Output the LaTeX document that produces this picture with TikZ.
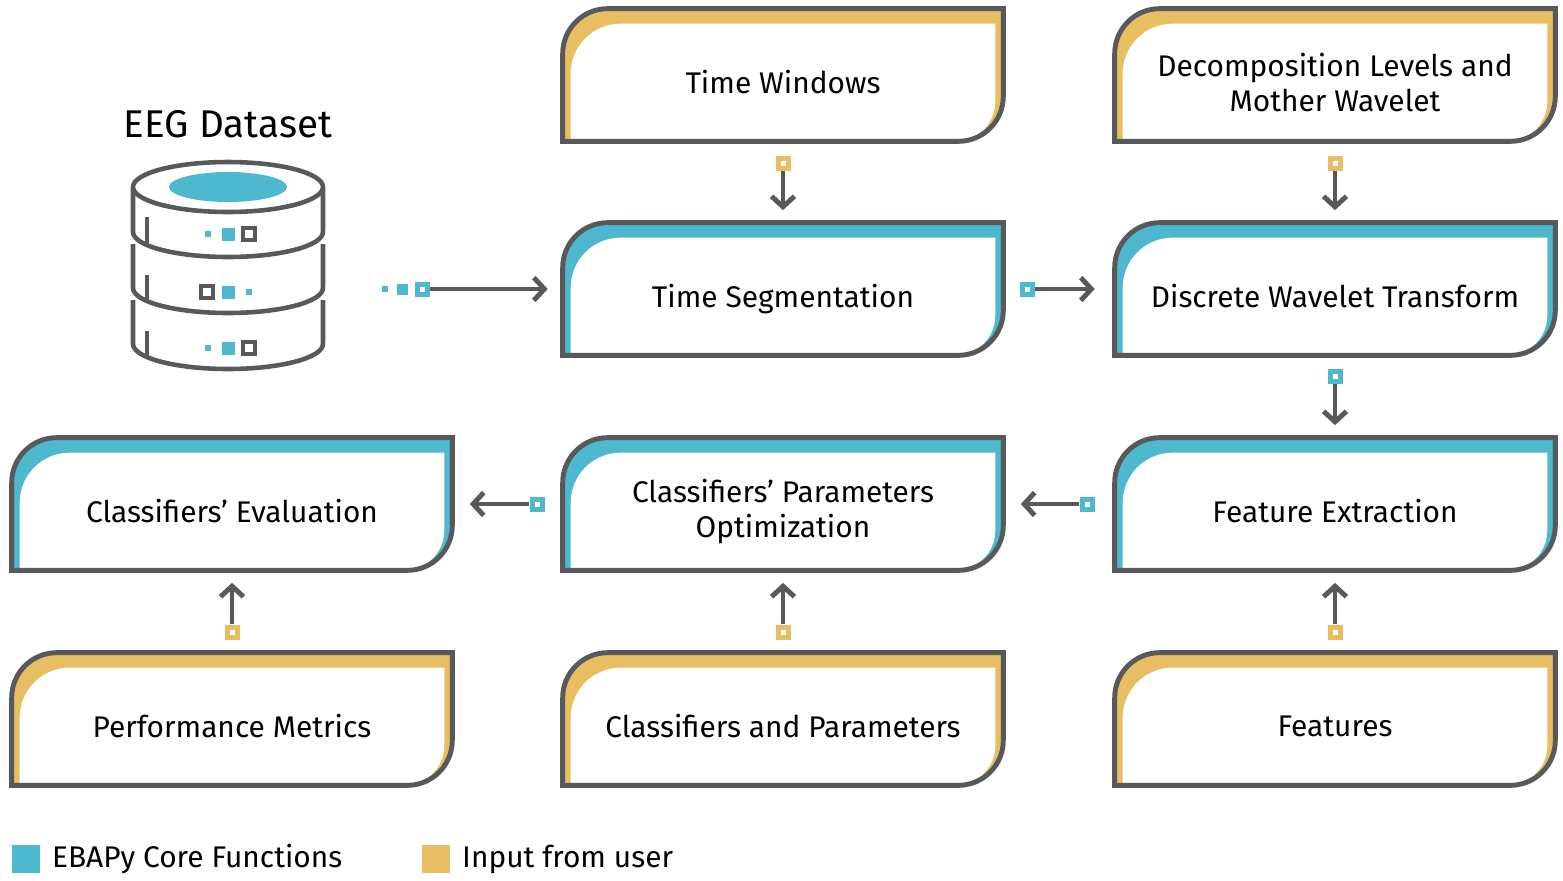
\documentclass[tikz,border=0pt]{standalone}
\usepackage{fontspec}
\setmainfont{Fira Sans}
\usetikzlibrary{arrows.meta}
\definecolor{ebablue}{HTML}{4DB8CE}
\definecolor{ebagold}{HTML}{E8BE62}
\definecolor{ebagray}{HTML}{58595B}
\tikzset{
  stage/.style={minimum width=8.8cm, minimum height=2.64cm, inner sep=0pt,
    align=center, font=\fontsize{17}{19.5}\selectfont, text=black},
  flow/.style={draw=ebagray, line width=2.8pt, -{Straight Barb[length=6pt,width=13pt,line width=2.8pt]}},
  mark/.style={fill=#1, draw=none, minimum size=0.3cm, inner sep=0pt,
    path picture={\fill[white] ([shift={(-0.05cm,-0.05cm)}]path picture bounding box.center) rectangle ++(0.1cm,0.1cm);}},
  dot/.style={fill=ebablue, draw=none, inner sep=0pt, minimum size=#1}
}
% box with a colored rim
\newcommand{\rimbox}[2]{%
  \fill[#2] (#1.south west) -- ([yshift=-0.9cm]#1.north west) arc[start angle=180,end angle=90,radius=0.9cm]
    -- (#1.north east) -- ([yshift=0.9cm]#1.south east) arc[start angle=0,end angle=-90,radius=0.9cm] -- cycle;
  \fill[white] ([xshift=0.16cm]#1.south west) -- ([xshift=0.16cm,yshift=-1.3cm]#1.north west)
    arc[start angle=180,end angle=90,radius=1cm] -- ([xshift=-0.16cm,yshift=-0.3cm]#1.north east)
    -- ([xshift=-0.16cm,yshift=0.8cm]#1.south east) arc[start angle=0,end angle=-90,radius=0.8cm] -- cycle;
  \draw[ebagray, line width=2.8pt] (#1.south west) -- ([yshift=-0.9cm]#1.north west) arc[start angle=180,end angle=90,radius=0.9cm]
    -- (#1.north east) -- ([yshift=0.9cm]#1.south east) arc[start angle=0,end angle=-90,radius=0.9cm] -- cycle;
}
\begin{document}
\begin{tikzpicture}[x=0.02cm, y=-0.02cm]
  \useasboundingbox (0,0) rectangle (1563,880);

  % boxes
  \node[stage] (tw) at (783,75) {};
  \node[stage] (dl) at (1335,75) {};
  \node[stage] (ts) at (783,289) {};
  \node[stage] (dwt) at (1335,289) {};
  \node[stage] (ce) at (232,504) {};
  \node[stage] (cpo) at (783,504) {};
  \node[stage] (fe) at (1335,504) {};
  \node[stage] (pm) at (232,719) {};
  \node[stage] (cp) at (783,719) {};
  \node[stage] (ft) at (1335,719) {};
  \rimbox{tw}{ebagold} \rimbox{dl}{ebagold}
  \rimbox{ts}{ebablue} \rimbox{dwt}{ebablue}
  \rimbox{ce}{ebablue} \rimbox{cpo}{ebablue} \rimbox{fe}{ebablue}
  \rimbox{pm}{ebagold} \rimbox{cp}{ebagold} \rimbox{ft}{ebagold}
  \node[stage] at ([yshift=-0.15cm]tw) {Time Windows};
  \node[stage] at ([yshift=-0.15cm]dl) {Decomposition Levels and\\Mother Wavelet};
  \node[stage] at ([yshift=-0.2cm]ts) {Time Segmentation};
  \node[stage] at ([yshift=-0.15cm]dwt) {Discrete Wavelet Transform};
  \node[stage] at ([yshift=-0.15cm]ce) {Classifiers’ Evaluation};
  \node[stage] at ([yshift=-0.15cm]cpo) {Classifiers’ Parameters\\Optimization};
  \node[stage] at ([yshift=-0.15cm]fe) {Feature Extraction};
  \node[stage] at ([yshift=-0.15cm]pm) {Performance Metrics};
  \node[stage] at ([yshift=-0.15cm]cp) {Classifiers and Parameters};
  \node[stage] at ([yshift=-0.15cm]ft) {Features};

  % database
  \node[font=\fontsize{22}{25}\selectfont] (eeg) at (228,124) {EEG Dataset};
  \begin{scope}[ebagray, line width=2.6pt]
    \foreach \y in {300,244} {
      \draw[fill=white] (133,\y) -- (133,\y+44) arc[x radius=1.9cm, y radius=0.5cm, start angle=180, end angle=360] -- (323,\y);
    }
    \draw[fill=white] (133,188) -- (133,232) arc[x radius=1.9cm, y radius=0.5cm, start angle=180, end angle=360] -- (323,188);
    \draw[fill=white] (228,187) ellipse[x radius=1.9cm, y radius=0.5cm];
    \fill[ebablue] (228,187) ellipse[x radius=1.18cm, y radius=0.3cm];
    \foreach \y in {234,348} {
      \draw (147,\y-17) -- (147,\y+10);
      \node[dot=0.12cm] (s\y) at (208,\y) {};
      \node[dot=0.26cm] (m\y) at (228,\y) {};
      \draw[line width=2pt] (243,\y-6) rectangle (255,\y+6);
    }
    \draw (147,275) -- (147,302);
    \draw[line width=2pt] (201,286) rectangle (213,298);
    \node[dot=0.26cm] (m292) at (228,292) {};
    \node[dot=0.12cm] (s292) at (249,292) {};
  \end{scope}

  % connectors
  \node[dot=0.12cm] (q1) at (385,289) {};
  \node[dot=0.22cm] (q2) at (402,289) {};
  \node[mark=ebablue] (db) at (422,289) {};
  \draw[flow] (db.east) -- ([xshift=-0.3cm]ts.west);
  \node[mark=ebablue] (m1) at (1027,289) {};
  \draw[flow] (m1.east) -- ([xshift=-0.4cm]dwt.west);
  \node[mark=ebagold] (m2) at (783,163) {};
  \draw[flow] (m2.south) -- ([yshift=0.25cm]ts.north);
  \node[mark=ebagold] (m3) at (1335,163) {};
  \draw[flow] (m3.south) -- ([yshift=0.25cm]dwt.north);
  \node[mark=ebablue] (m4) at (1335,376) {};
  \draw[flow] (m4.south) -- ([yshift=0.25cm]fe.north);
  \node[mark=ebablue] (m5) at (1087,504) {};
  \draw[flow] (m5.west) -- ([xshift=0.35cm]cpo.east);
  \node[mark=ebablue] (m6) at (537,504) {};
  \draw[flow] (m6.west) -- ([xshift=0.35cm]ce.east);
  \node[mark=ebagold] (m7) at (232,632) {};
  \draw[flow] (m7.north) -- ([yshift=-0.25cm]ce.south);
  \node[mark=ebagold] (m8) at (783,632) {};
  \draw[flow] (m8.north) -- ([yshift=-0.25cm]cpo.south);
  \node[mark=ebagold] (m9) at (1335,632) {};
  \draw[flow] (m9.north) -- ([yshift=-0.25cm]fe.south);

  % legend
  \fill[ebablue] (12,845) rectangle (40,873);
  \node[anchor=west, font=\fontsize{17}{20}\selectfont] (lcore) at (46,859) {EBAPy Core Functions};
  \fill[ebagold] (422,845) rectangle (450,873);
  \node[anchor=west, font=\fontsize{17}{20}\selectfont] (luser) at (456,859) {Input from user};
\end{tikzpicture}
\end{document}
